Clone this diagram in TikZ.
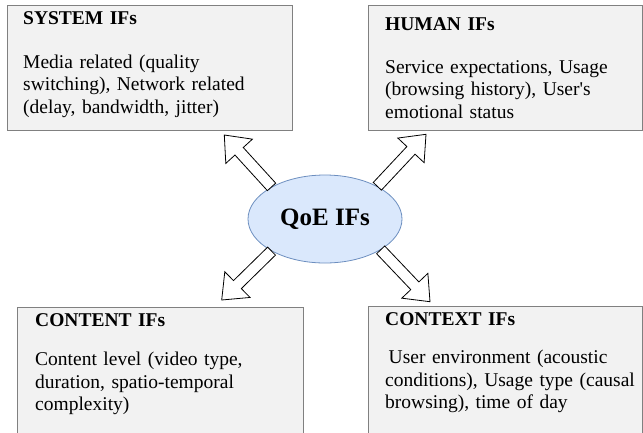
\documentclass[tikz,border=0pt]{standalone}
\usepackage{fontspec}
\setmainfont{Liberation Serif}
\usetikzlibrary{shapes.geometric,calc}

\definecolor{boxgray}{HTML}{F2F2F2}
\definecolor{boxline}{HTML}{808080}
\definecolor{qoefill}{HTML}{DAE8FC}
\definecolor{qoeline}{HTML}{6C8EBF}

\tikzset{
  ifbox/.style={rectangle,draw=boxline,fill=boxgray,line width=0.8pt,anchor=north west,inner sep=0pt},
  iftext/.style={anchor=base west,inner sep=0pt,text width=#1,align=left,font=\fontsize{19.5}{22.7}\selectfont},
  fatarr/.style={draw=black,fill=white,line width=0.8pt,line join=miter}
}

\newcommand{\fatarrow}[2]{%
  \coordinate (hb) at ($(#2)!22pt!(#1)$);
  \draw[fatarr] ($(#1)!5.6pt!90:(#2)$) -- ($(hb)!5.6pt!90:(#2)$) -- ($(hb)!18pt!90:(#2)$)
    -- (#2) -- ($(hb)!18pt!-90:(#2)$) -- ($(hb)!5.6pt!-90:(#2)$) -- ($(#1)!5.6pt!-90:(#2)$) -- cycle;}

\begin{document}
\begin{tikzpicture}[x=1pt,y=-1pt]
  \clip (0,0) rectangle (643,432);

  \node[ifbox,minimum width=285,minimum height=125] (sys) at (7,5) {};
  \node[ifbox,minimum width=273.5,minimum height=124.5] (hum) at (368,5) {};
  \node[ifbox,minimum width=285.5,minimum height=135] (con) at (17,307) {};
  \node[ifbox,minimum width=273.5,minimum height=135] (ctx) at (368,306) {};

  \node[iftext=260pt] (sys-txt) at (23,24) {\textbf{SYSTEM IFs}\\[21.3pt]Media related (quality\\switching), Network related\\(delay, bandwidth, jitter)};
  \node[iftext=250pt] (hum-txt) at (385,30.5) {\textbf{HUMAN IFs}\\[19.8pt]Service expectations, Usage\\(browsing history), User\textquotesingle s\\emotional status};
  \node[iftext=260pt] (con-txt) at (35,326) {\textbf{CONTENT IFs}\\[16.8pt]Content level (video type,\\duration, spatio-temporal\\complexity)};
  \node[iftext=250pt] (ctx-txt) at (385,325) {\textbf{CONTEXT IFs}\\[15.6pt]\hspace{3.5pt}User environment (acoustic\\conditions), Usage type (causal\\browsing), time of day};

  \node[ellipse,draw=qoeline,fill=qoefill,line width=0.8pt,minimum width=154,minimum height=88,inner sep=0pt,
    font=\bfseries\fontsize{25}{30}\selectfont] (qoe) at (325,219) {QoE IFs};

  \coordinate (sys-tip) at (224.3,135);
  \coordinate (hum-tip) at (426,134.3);
  \coordinate (con-tip) at (221.7,300);
  \coordinate (ctx-tip) at (430,301.7);

  \fatarrow{qoe.149}{sys-tip}
  \fatarrow{qoe.32}{hum-tip}
  \fatarrow{qoe.211}{con-tip}
  \fatarrow{qoe.331}{ctx-tip}
\end{tikzpicture}
\end{document}
